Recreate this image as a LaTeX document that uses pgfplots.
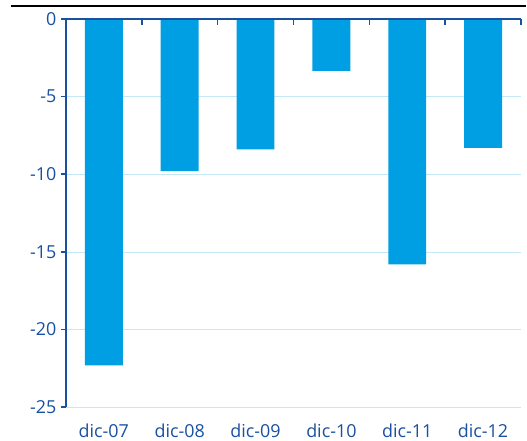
\documentclass[border=0pt]{standalone}
\usepackage{pgfplots}
\pgfplotsset{compat=1.18}
\usepackage{fontspec}
\setmainfont{Open Sans}
\definecolor{barblue}{RGB}{0,158,226}
\definecolor{axblue}{RGB}{25,80,160}
\definecolor{gridblue}{RGB}{195,232,246}
\begin{document}
\begin{tikzpicture}
\path (-66bp,-33bp) rectangle (461bp,408bp);
\begin{axis}[
    scale only axis,
    width=456bp, height=389bp,
    xmin=-0.5, xmax=5.5,
    ymin=-25, ymax=0,
    axis x line=bottom, axis y line=left,
    x axis line style={draw=none},
    y axis line style={draw=axblue, line width=1.6bp, -},
    xtick={0,1,2,3,4,5},
    xticklabels={dic-07,dic-08,dic-09,dic-10,dic-11,dic-12},
    ytick={-25,-20,-15,-10,-5,0},
    yticklabels={-25,-20,-15,-10,-5,0},
    major x tick style={draw=none},
    ytick style={draw=axblue, line width=1.6bp},
    tick align=outside,
    major tick length=5bp,
    ymajorgrids,
    grid style={gridblue, line width=0.8bp},
    ticklabel style={text=axblue, font=\fontsize{18}{19}\selectfont},
    yticklabel style={xshift=-1bp},
    xticklabel style={yshift=-8bp},
    /pgf/number format/assume math mode=true,
    clip=false,
]
\addplot[ybar, bar width=38bp, fill=barblue, draw=none] coordinates {
    (0,-22.3) (1,-9.8) (2,-8.4) (3,-3.35) (4,-15.8) (5,-8.3)
};
\draw[axblue, line width=2bp] (axis cs:-0.5,0) -- (axis cs:5.5,0);
\pgfplotsinvokeforeach{-0.5,0.5,1.5,2.5,3.5,4.5,5.5}{
    \draw[axblue, line width=1.6bp] (axis cs:#1,0) -- (axis cs:#1,-0.4);
}
\end{axis}
\draw[black, line width=2bp] (-55bp,402bp) -- (461bp,402bp);
\end{tikzpicture}
\end{document}
